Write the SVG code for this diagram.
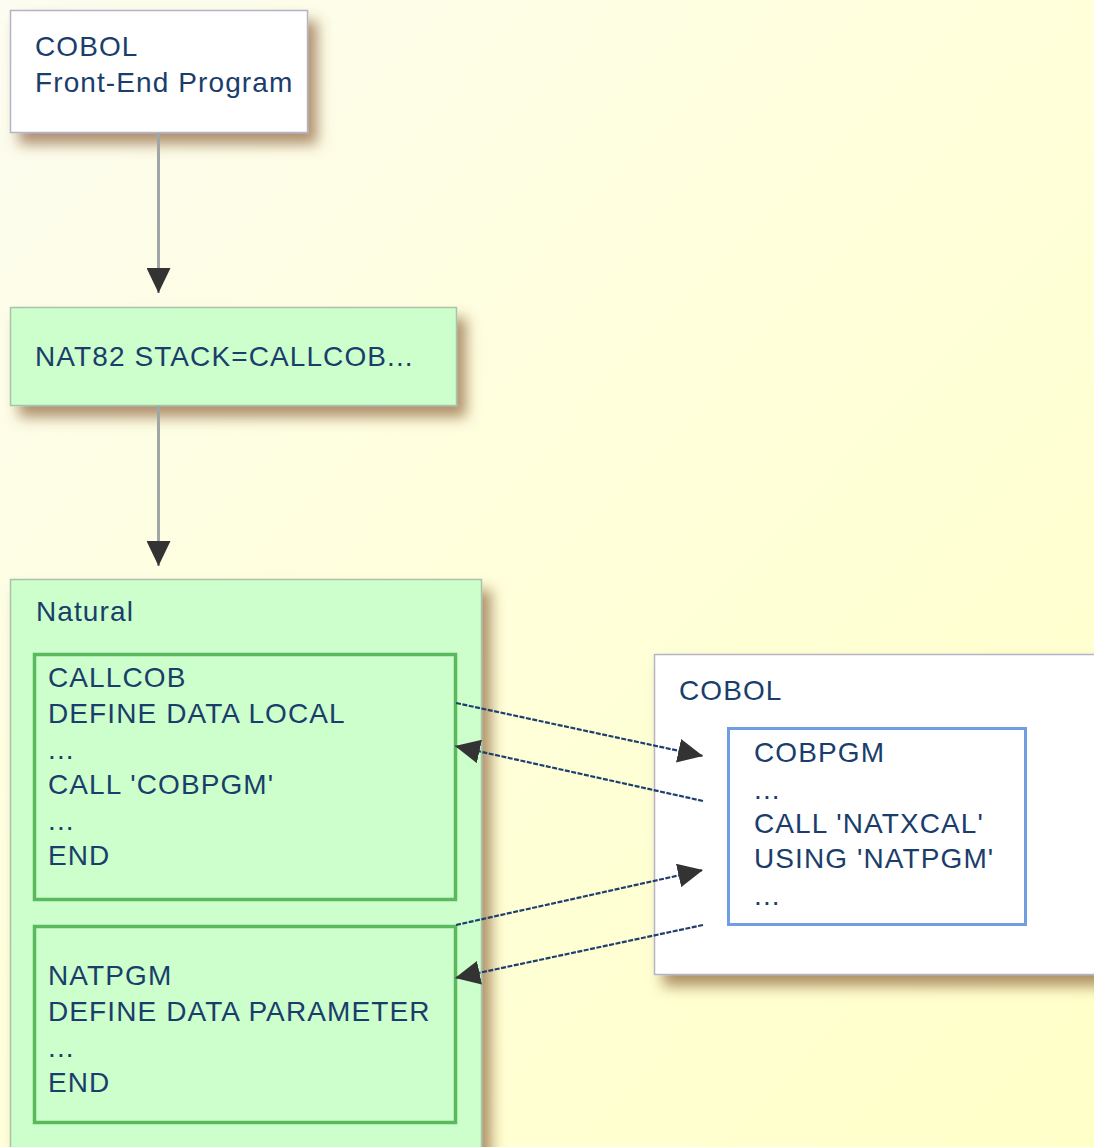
<svg xmlns="http://www.w3.org/2000/svg" width="1094" height="1147" viewBox="0 0 1094 1147">
<defs>
<linearGradient id="bg" x1="0" y1="0" x2="1" y2="1">
<stop offset="0" stop-color="#fcfcf0"/>
<stop offset="0.45" stop-color="#ffffdc"/>
<stop offset="1" stop-color="#ffffc8"/>
</linearGradient>
<filter id="sh" x="-10%" y="-10%" width="130%" height="140%">
<feDropShadow dx="9" dy="11" stdDeviation="7" flood-color="#7a4a1a" flood-opacity="0.6"/>
</filter>
<marker id="ah" markerUnits="userSpaceOnUse" markerWidth="26" markerHeight="24" refX="25" refY="12" orient="auto">
<path d="M0,0 L25,12 L0,24 z" fill="#333333"/>
</marker>
<style>
text{font-family:"Liberation Sans",Arial,sans-serif;font-size:28px;letter-spacing:1.1px;fill:#1a3d6b}
.gbox{fill:#ccffcc;stroke:#a9c2a9;stroke-width:1.5}
.wbox{fill:#ffffff;stroke:#b4b4c4;stroke-width:1.5}
.inG{fill:none;stroke:#5cb85c;stroke-width:3.5}
.inB{fill:none;stroke:#6f9fe0;stroke-width:3}
.vline{stroke:#a0a6a6;stroke-width:3;fill:none}
.dline{stroke:#1f3f6e;stroke-width:2.2;stroke-dasharray:5 1.5;fill:none}
</style>
</defs>
<rect x="0" y="0" width="1094" height="1147" fill="url(#bg)"/>
<g id="frontend">
<rect class="wbox" x="10.5" y="10.5" width="297" height="122" filter="url(#sh)"/>
<text x="35" y="56">COBOL</text>
<text x="35" y="92">Front-End Program</text>
</g>
<g id="nat82">
<rect class="gbox" x="10.5" y="307.5" width="446" height="98" filter="url(#sh)"/>
<text x="35" y="366">NAT82 STACK=CALLCOB...</text>
</g>
<g id="natural">
<rect class="gbox" x="10.5" y="579.5" width="471" height="600" filter="url(#sh)"/>
<text x="36" y="621">Natural</text>
</g>
<g id="callcob">
<rect class="inG" x="34.5" y="654.5" width="421" height="245"/>
<text x="48" y="687">CALLCOB</text>
<text x="48" y="723">DEFINE DATA LOCAL</text>
<text x="48" y="759">...</text>
<text x="48" y="794">CALL 'COBPGM'</text>
<text x="48" y="830">...</text>
<text x="48" y="865">END</text>
</g>
<g id="natpgm">
<rect class="inG" x="34.5" y="926.5" width="421" height="196"/>
<text x="48" y="985">NATPGM</text>
<text x="48" y="1021">DEFINE DATA PARAMETER</text>
<text x="48" y="1057">...</text>
<text x="48" y="1092">END</text>
</g>
<g id="cobol">
<rect class="wbox" x="654.5" y="654.5" width="460" height="320" filter="url(#sh)"/>
<text x="679" y="700">COBOL</text>
</g>
<g id="cobpgm">
<rect class="inB" x="728.5" y="728.5" width="297" height="196"/>
<text x="754" y="762">COBPGM</text>
<text x="754" y="799">...</text>
<text x="754" y="833">CALL 'NATXCAL'</text>
<text x="754" y="868">USING 'NATPGM'</text>
<text x="754" y="905">...</text>
</g>
<g id="connectors">
<line class="vline" x1="158.5" y1="133" x2="158.5" y2="293" marker-end="url(#ah)"/>
<line class="vline" x1="158.5" y1="406" x2="158.5" y2="566" marker-end="url(#ah)"/>
<line class="dline" x1="456" y1="703" x2="703" y2="756" marker-end="url(#ah)"/>
<line class="dline" x1="703" y1="801" x2="455" y2="746" marker-end="url(#ah)"/>
<line class="dline" x1="456" y1="925" x2="703" y2="870" marker-end="url(#ah)"/>
<line class="dline" x1="703" y1="925" x2="455" y2="978" marker-end="url(#ah)"/>
</g>
</svg>
